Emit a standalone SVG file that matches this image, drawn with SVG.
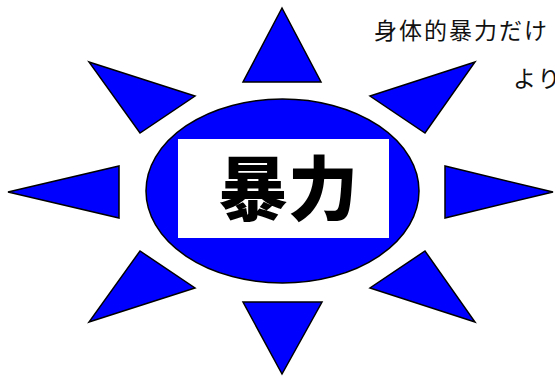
<svg xmlns="http://www.w3.org/2000/svg" width="555" height="376" viewBox="0 0 555 376">
<style>
.ray{fill:#0000ff;stroke:#000;stroke-width:1.5;stroke-linejoin:miter}
.body{fill:#0000ff;stroke:#000;stroke-width:1.5}
.label{font-family:"Noto Sans CJK JP","Noto Sans CJK SC",sans-serif;font-weight:900;font-size:70px;fill:#000}
.note{font-family:"Noto Sans CJK JP","Noto Sans CJK SC",sans-serif;font-size:23px;fill:#111;letter-spacing:2px}
</style>
<rect width="555" height="376" fill="#fff"/>
<g id="rays">
<polygon id="ray-n" class="ray" points="282,8 243,82 321,82"/>
<polygon id="ray-ne" class="ray" points="475,62 370,96 425,133"/>
<polygon id="ray-e" class="ray" points="553,192 445,166 445,218"/>
<polygon id="ray-se" class="ray" points="475,322 370,288 425,251"/>
<polygon id="ray-s" class="ray" points="282,374 243,302 322,302"/>
<polygon id="ray-sw" class="ray" points="89,322 195,288 140,251"/>
<polygon id="ray-w" class="ray" points="8,192 119,166 119,218"/>
<polygon id="ray-nw" class="ray" points="89,62 195,96 140,133"/>
</g>
<g id="center">
<ellipse class="body" cx="282.5" cy="191" rx="136.5" ry="92"/>
<rect x="178" y="139" width="211" height="99" fill="#fff"/>
<text class="label" x="288" y="215" text-anchor="middle">暴力</text>
</g>
<g id="note">
<text class="note" x="374" y="39">身体的暴力だけ</text>
<text class="note" x="513" y="87">より</text>
</g>
</svg>
